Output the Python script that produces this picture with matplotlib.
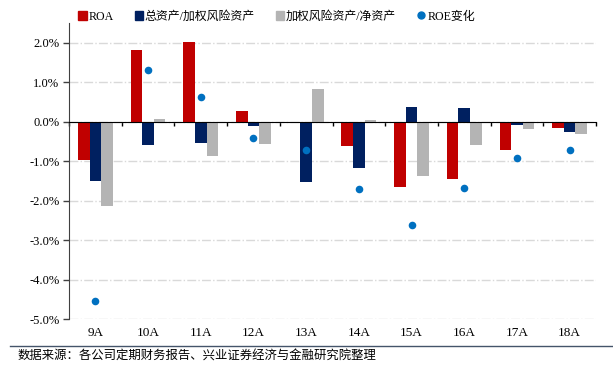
import matplotlib
matplotlib.use("Agg")
import matplotlib.pyplot as plt
import numpy as np
from matplotlib.patches import Patch
from matplotlib.lines import Line2D

plt.rcParams['font.family'] = ['Liberation Serif', 'Noto Sans CJK SC', 'DejaVu Sans']

# data (percent)
years = ["9A", "10A", "11A", "12A", "13A", "14A", "15A", "16A", "17A", "18A"]
roa = [-0.96, 1.82, 2.03, 0.26, -0.02, -0.62, -1.65, -1.46, -0.71, -0.17]
asset_rwa = [-1.51, -0.60, -0.55, -0.10, -1.54, -1.17, 0.38, 0.35, -0.08, -0.27]
rwa_equity = [-2.13, 0.06, -0.87, -0.57, 0.83, 0.04, -1.37, -0.60, -0.18, -0.32]
roe_change = [-4.55, 1.30, 0.63, -0.40, -0.71, -1.70, -2.62, -1.69, -0.93, -0.71]

c_red = "#C00000"
c_navy = "#002060"
c_gray = "#B4B4B4"
c_dot = "#0070C0"

fig = plt.figure(figsize=(6.13, 3.77), dpi=100)
ax = fig.add_axes([0.1126, 0.1538, 0.8597, 0.785])

x = np.arange(len(years))
w = 0.22
ax.bar(x - w, roa, w, color=c_red, zorder=3)
ax.bar(x, asset_rwa, w, color=c_navy, zorder=3)
ax.bar(x + w, rwa_equity, w, color=c_gray, zorder=3)
ax.scatter(x, roe_change, s=30, color=c_dot, zorder=4, linewidths=0)

ax.set_xlim(-0.5, len(years) - 0.5)
ax.set_ylim(-5.0, 2.5)
ax.set_yticks(np.arange(-5, 2.1, 1))
ax.set_yticklabels([f"{v:.1f}%" for v in np.arange(-5, 2.1, 1)], fontsize=9)
ax.grid(axis='y', color='#D9D9D9', linestyle='-.', linewidth=1, zorder=0)
ax.tick_params(axis='y', length=4, width=1, color='#404040', pad=3)

for s in ['top', 'right']:
    ax.spines[s].set_visible(False)
ax.spines['left'].set_color('#404040')
ax.spines['bottom'].set_position(('data', 0))
ax.spines['bottom'].set_color('black')
ax.spines['bottom'].set_zorder(5)
ax.set_xticks(np.arange(-0.5, len(years), 1))
ax.tick_params(axis='x', length=3, width=1, direction='out', labelbottom=False)

sec = ax.secondary_xaxis(0)
sec.set_xticks(x)
sec.set_xticklabels(years, fontsize=9.5)
sec.tick_params(length=0, pad=6)
sec.spines['bottom'].set_visible(False)

handles = [
    Patch(color=c_red, label="ROA"),
    Patch(color=c_navy, label="总资产/加权风险资产"),
    Patch(color=c_gray, label="加权风险资产/净资产"),
    Line2D([], [], marker='o', linestyle='', color=c_dot, markersize=5, label="ROE变化"),
]
fig.legend(handles=handles, loc='center left', bbox_to_anchor=(0.12, 0.956),
           ncol=4, frameon=False, fontsize=8.6, handlelength=0.7, handleheight=0.7,
           handletextpad=0.15, columnspacing=1.75, borderaxespad=0)

fig.add_artist(Line2D([0.016, 1.0], [1 - 345.5 / 377] * 2, color='#44546A', linewidth=1))
fig.text(0.028, 1 - 356 / 377, "数据来源：各公司定期财务报告、兴业证券经济与金融研究院整理",
         fontsize=8.9, va='center', ha='left', family=['Noto Sans CJK SC', 'DejaVu Sans'])

fig.savefig("out.png", dpi=100)
